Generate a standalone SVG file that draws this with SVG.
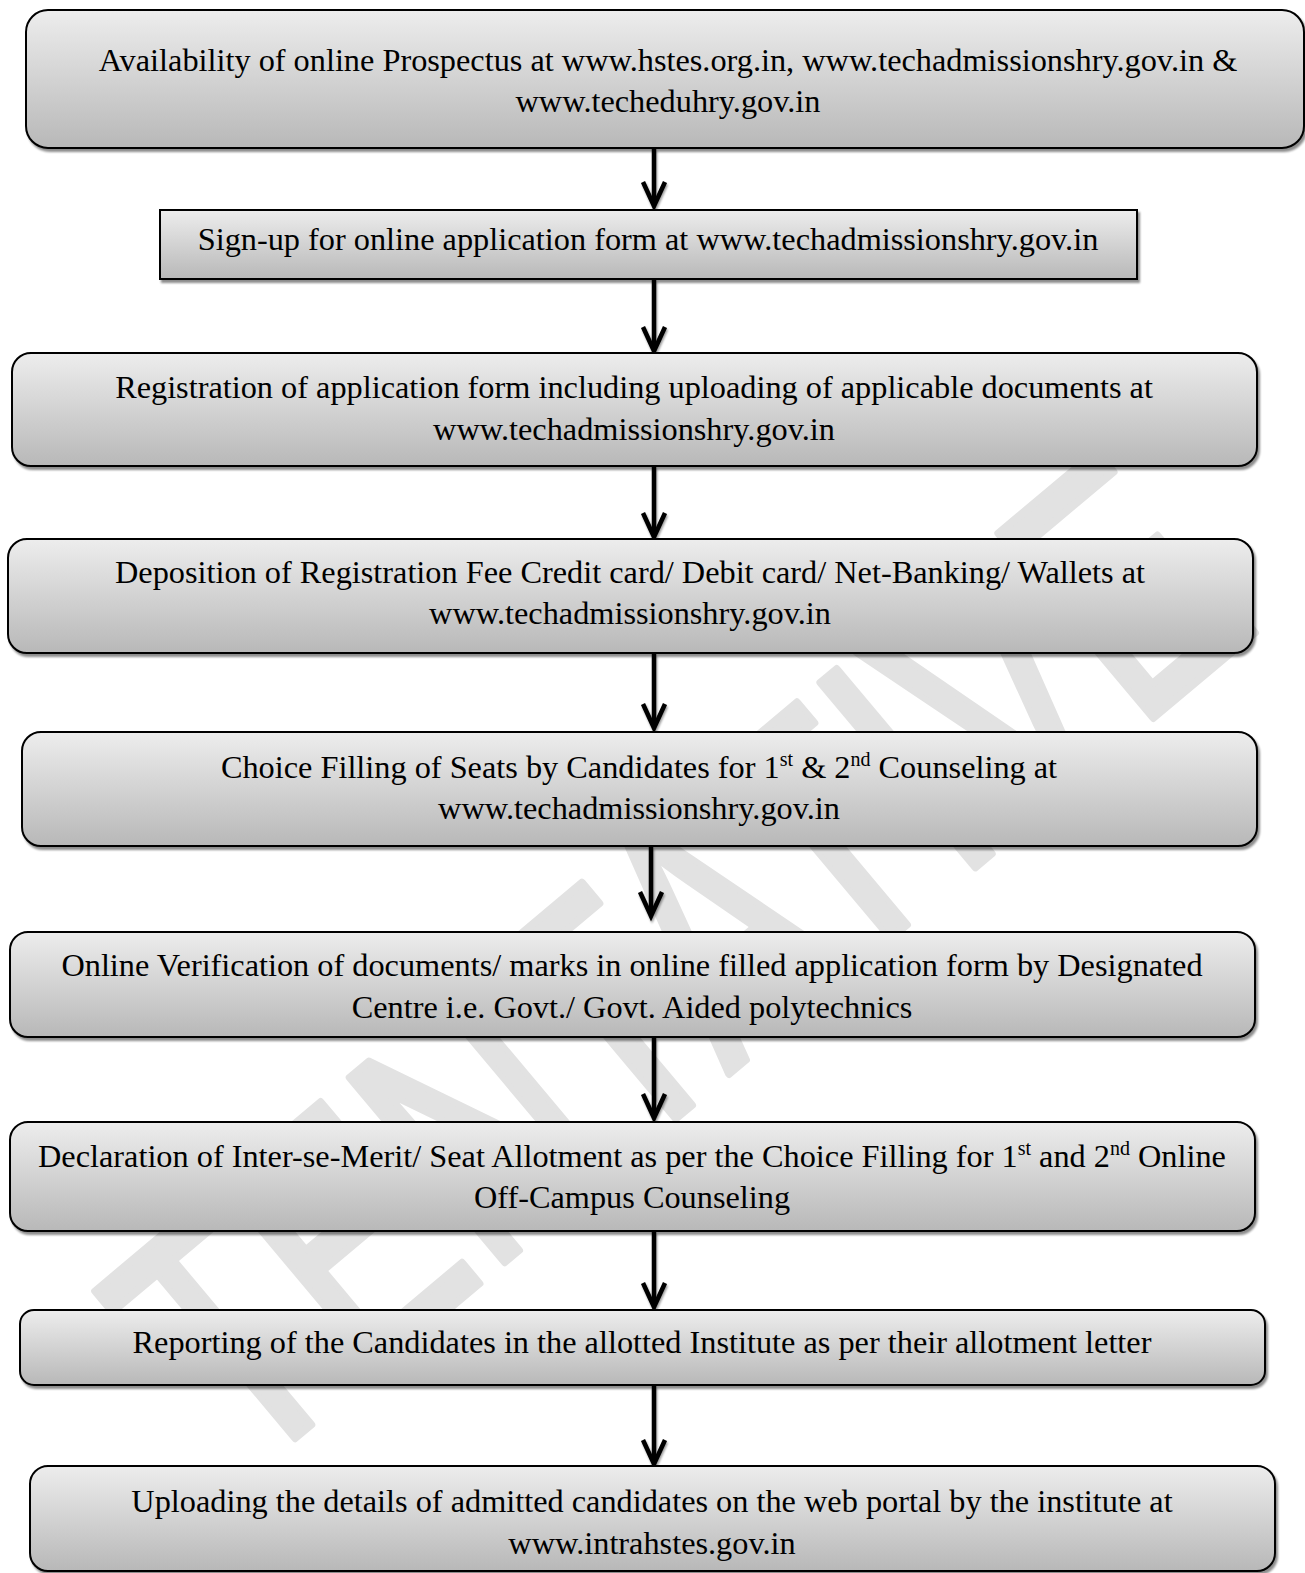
<svg xmlns="http://www.w3.org/2000/svg" width="1305" height="1573" viewBox="0 0 1305 1573">
<style>
.box{fill:url(#g);stroke:#000;stroke-width:2;filter:url(#sh)}
.t{font-family:"Liberation Serif","Times New Roman",serif;font-size:32.3px;fill:#000;text-anchor:middle}
.sup{font-size:20px}
.wm{font-family:"Liberation Sans",Arial,sans-serif;font-size:350px;fill:#e2e2e2;stroke:#e2e2e2;stroke-width:8;stroke-linejoin:round}
.shaft{stroke:#000;stroke-width:4.5;fill:none}
.head{stroke:#000;stroke-width:4.5;fill:none;stroke-linecap:butt;stroke-linejoin:miter}
</style>
<defs>
<linearGradient id="g" x1="0" y1="0" x2="0" y2="1">
<stop offset="0" stop-color="#ededed"/>
<stop offset="1" stop-color="#b8b8b8"/>
</linearGradient>
<filter id="sh" x="-5%" y="-10%" width="110%" height="130%">
<feGaussianBlur in="SourceAlpha" stdDeviation="1"/>
<feOffset dx="2" dy="3" result="o"/>
<feComponentTransfer in="o" result="s"><feFuncA type="linear" slope="0.45"/></feComponentTransfer>
<feMerge><feMergeNode in="s"/><feMergeNode in="SourceGraphic"/></feMerge>
</filter>
<filter id="ash" x="-50%" y="-10%" width="200%" height="130%">
<feGaussianBlur in="SourceAlpha" stdDeviation="1"/>
<feOffset dx="1" dy="2" result="o"/>
<feComponentTransfer in="o" result="s"><feFuncA type="linear" slope="0.4"/></feComponentTransfer>
<feMerge><feMergeNode in="s"/><feMergeNode in="SourceGraphic"/></feMerge>
</filter>
</defs>
<rect width="1305" height="1573" fill="#fff"/>
<g id="watermark">
<text class="wm" transform="translate(245,1480) rotate(-40)" textLength="1330" lengthAdjust="spacingAndGlyphs">TENTATIVE</text>
</g>
<g id="connectors" filter="url(#ash)">
<g><line class="shaft" x1="654" y1="149" x2="654" y2="205"/><polyline class="head" points="643,182 654,206 665,182"/></g>
<g><line class="shaft" x1="654" y1="280" x2="654" y2="350"/><polyline class="head" points="643,327 654,351 665,327"/></g>
<g><line class="shaft" x1="654" y1="467" x2="654" y2="536"/><polyline class="head" points="643,513 654,537 665,513"/></g>
<g><line class="shaft" x1="654" y1="654" x2="654" y2="727"/><polyline class="head" points="643,704 654,728 665,704"/></g>
<g><line class="shaft" x1="651" y1="847" x2="651" y2="915"/><polyline class="head" points="640,892 651,916 662,892"/></g>
<g><line class="shaft" x1="654" y1="1038" x2="654" y2="1117"/><polyline class="head" points="643,1094 654,1118 665,1094"/></g>
<g><line class="shaft" x1="654" y1="1232" x2="654" y2="1306"/><polyline class="head" points="643,1283 654,1307 665,1283"/></g>
<g><line class="shaft" x1="654" y1="1386" x2="654" y2="1463"/><polyline class="head" points="643,1440 654,1464 665,1440"/></g>
</g>
<g id="n1"><rect class="box" x="26" y="10" width="1278" height="138" rx="22"/>
<text class="t" x="668" y="71">Availability of online Prospectus at www.hstes.org.in, www.techadmissionshry.gov.in &amp;</text>
<text class="t" x="668" y="112">www.techeduhry.gov.in</text></g>
<g id="n2"><rect class="box" x="160" y="210" width="977" height="69"/>
<text class="t" x="648" y="250">Sign-up for online application form at www.techadmissionshry.gov.in</text></g>
<g id="n3"><rect class="box" x="12" y="353" width="1245" height="113" rx="19"/>
<text class="t" x="634" y="398">Registration of application form including uploading of applicable documents at</text>
<text class="t" x="634" y="440">www.techadmissionshry.gov.in</text></g>
<g id="n4"><rect class="box" x="8" y="539" width="1245" height="114" rx="19"/>
<text class="t" x="630" y="583">Deposition of Registration Fee Credit card/ Debit card/ Net-Banking/ Wallets at</text>
<text class="t" x="630" y="624">www.techadmissionshry.gov.in</text></g>
<g id="n5"><rect class="box" x="22" y="732" width="1235" height="114" rx="19"/>
<text class="t" x="639" y="778">Choice Filling of Seats by Candidates for 1<tspan class="sup" dy="-12">st</tspan><tspan dy="12"> &amp; 2</tspan><tspan class="sup" dy="-12">nd</tspan><tspan dy="12"> Counseling at</tspan></text>
<text class="t" x="639" y="819">www.techadmissionshry.gov.in</text></g>
<g id="n6"><rect class="box" x="10" y="932" width="1245" height="105" rx="18"/>
<text class="t" x="632" y="976">Online Verification of documents/ marks in online filled application form by Designated</text>
<text class="t" x="632" y="1018">Centre i.e. Govt./ Govt. Aided polytechnics</text></g>
<g id="n7"><rect class="box" x="10" y="1122" width="1245" height="109" rx="18"/>
<text class="t" x="632" y="1167">Declaration of Inter-se-Merit/ Seat Allotment as per the Choice Filling for 1<tspan class="sup" dy="-12">st</tspan><tspan dy="12"> and 2</tspan><tspan class="sup" dy="-12">nd</tspan><tspan dy="12"> Online</tspan></text>
<text class="t" x="632" y="1208">Off-Campus Counseling</text></g>
<g id="n8"><rect class="box" x="20" y="1310" width="1245" height="75" rx="14"/>
<text class="t" x="642" y="1353">Reporting of the Candidates in the allotted Institute as per their allotment letter</text></g>
<g id="n9"><rect class="box" x="30" y="1466" width="1245" height="105" rx="18"/>
<text class="t" x="652" y="1512">Uploading the details of admitted candidates on the web portal by the institute at</text>
<text class="t" x="652" y="1554">www.intrahstes.gov.in</text></g>
</svg>
